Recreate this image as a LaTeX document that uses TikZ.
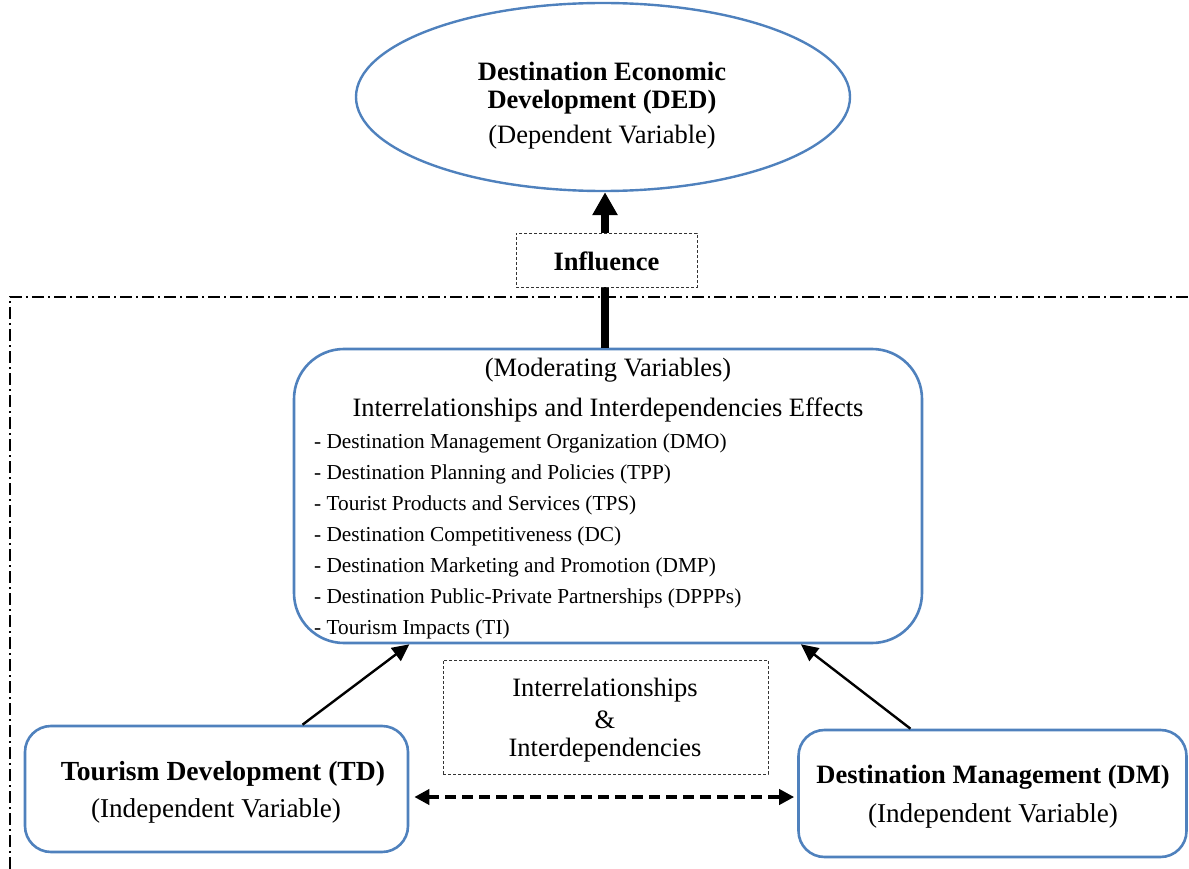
\documentclass[tikz,border=0pt]{standalone}
\usepackage{fontspec}
\setmainfont{Liberation Serif}
\usetikzlibrary{arrows.meta,calc,shapes.geometric}
\definecolor{boxblue}{RGB}{79,129,189}

\begin{document}
\begin{tikzpicture}[x=1pt,y=-1pt,
  bluebox/.style={draw=boxblue,line width=2.6pt,rectangle,inner sep=0pt,fill=white},
  dotbox/.style={draw=black!80,line width=0.9pt,dash pattern=on 3pt off 2pt,inner sep=0pt,fill=white},
  bigtxt/.style={font=\fontsize{26.5}{30}\selectfont,inner sep=0pt},
  boldtxt/.style={font=\fontsize{26.5}{30}\selectfont\bfseries,inner sep=0pt},
  sidetxt/.style={font=\fontsize{27.2}{30}\selectfont,inner sep=0pt},
  sidebold/.style={font=\fontsize{27.6}{30}\selectfont\bfseries,inner sep=0pt},
  itemtxt/.style={font=\fontsize{21.3}{26}\selectfont,inner sep=0pt,anchor=west},
  thinarrow/.style={line width=2.4pt,-{Triangle[length=17pt,width=16pt]}},
]
\useasboundingbox (0,0) rectangle (1189,869);

% outer dash-dot frame (top and left edges)
\draw[line width=1.3pt,dash pattern=on 12pt off 4pt on 2pt off 4pt] (10,869) -- (10,297) -- (1189,297);

% dependent variable
\node[draw=boxblue,line width=2.4pt,ellipse,minimum width=494pt,minimum height=188pt,inner sep=0pt] (ded) at (603,97) {};
\node[boldtxt] (dedA) at (602,71) {Destination Economic};
\node[boldtxt] (dedB) at (602,102) {Development (DED)};
\node[bigtxt] (dedC) at (602,137.5) {(Dependent Variable)};

% moderating variables box
\node[bluebox,rounded corners=50pt,minimum width=628pt,minimum height=294pt] (mod) at (608,496) {};
\node[bigtxt] (modA) at (608,370) {(Moderating Variables)};
\node[bigtxt] (modB) at (608,409.5) {Interrelationships and Interdependencies Effects};
\foreach \t [count=\i from 0] in {
  - Destination Management Organization (DMO),
  - Destination Planning and Policies (TPP),
  - Tourist Products and Services (TPS),
  - Destination Competitiveness (DC),
  - Destination Marketing and Promotion (DMP),
  - Destination Public-Private Partnerships (DPPPs),
  - Tourism Impacts (TI)}
  \node[itemtxt] (item\i) at (314,{443+31*\i}) {\t};

% main influence arrow
\draw[line width=8pt,-{Triangle[length=23pt,width=24pt]}]
  ([xshift=-3pt]mod.north) -- ([xshift=2pt]ded.south);
\node[dotbox,minimum width=181pt,minimum height=54pt] (infl) at (606.5,260) {};
\node[boldtxt] (inflT) at (606.5,261) {Influence};

% independent variables
\node[bluebox,rounded corners=26pt,minimum width=383pt,minimum height=126pt] (td) at (216.5,789) {};
\node[sidebold] (tdA) at (223,774) {Tourism Development (TD)};
\node[sidetxt] (tdB) at (216,810.5) {(Independent Variable)};

\node[bluebox,rounded corners=26pt,minimum width=388pt,minimum height=127pt] (dm) at (992.5,793.5) {};
\node[boldtxt] (dmA) at (993,777) {Destination Management (DM)};
\node[sidetxt] (dmB) at (993,815.5) {(Independent Variable)};

% interrelationships label box
\node[dotbox,minimum width=325pt,minimum height=114pt] (irl) at (605.5,717) {};
\node[bigtxt] (irlA) at (605,690) {Interrelationships};
\node[bigtxt] (irlB) at (605,719.5) {\&};
\node[bigtxt] (irlC) at (605,750) {Interdependencies};

% connectors
\draw[thinarrow] ($(td.north west)!0.723!(td.north east)$) -- ($(mod.south west)!0.185!(mod.south east)$);
\draw[thinarrow] ($(dm.north west)!0.29!(dm.north east)$) -- ($(mod.south west)!0.806!(mod.south east)$);
\draw[line width=3.8pt,dash pattern=on 11pt off 6pt,{Triangle[length=15pt,width=15pt]}-{Triangle[length=15pt,width=15pt]}]
  ([xshift=5pt,yshift=-8pt]td.east) -- ([xshift=-3pt,yshift=-8pt]td.east -| dm.west);
\end{tikzpicture}
\end{document}
